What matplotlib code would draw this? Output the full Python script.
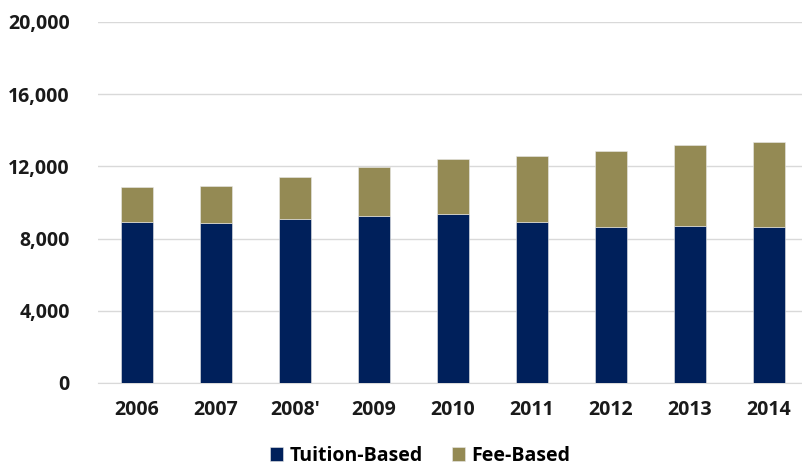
import matplotlib
matplotlib.use("Agg")
import numpy as np
import matplotlib.pyplot as plt
from matplotlib.ticker import FuncFormatter

# data
years = ["2006", "2007", "2008'", "2009", "2010", "2011", "2012", "2013", "2014"]
tuition_based = [8910, 8860, 9100, 9260, 9390, 8910, 8650, 8720, 8650]
total = [10850, 10910, 11440, 11980, 12410, 12590, 12830, 13200, 13370]
fee_based = [t - u for t, u in zip(total, tuition_based)]

navy = "#00205B"
tan = "#948A54"

plt.rcParams['font.family'] = ['Open Sans', 'DejaVu Sans']

fig = plt.figure(figsize=(8.02, 4.68), dpi=100)
ax = fig.add_axes([97.5 / 802, 1 - 383 / 468, 711 / 802, 361 / 468])

x = np.arange(len(years))
w = 0.405
ax.bar(x, tuition_based, w, color=navy, label="Tuition-Based", zorder=3,
       edgecolor="#E8E8E8", linewidth=0.4)
ax.bar(x, fee_based, w, bottom=tuition_based, color=tan, label="Fee-Based", zorder=3,
       edgecolor="#E8E8E8", linewidth=0.4)

ax.set_xlim(-0.5, len(years) - 0.5)
ax.set_ylim(0, 20000)
ax.set_yticks(np.arange(0, 20001, 4000))
ax.yaxis.set_major_formatter(FuncFormatter(lambda v, p: f"{int(v):,}"))
ax.set_xticks(x)
ax.set_xticklabels(years)

ax.grid(axis="y", color="#D9D9D9", linewidth=1, zorder=0)
for s in ["top", "right", "left"]:
    ax.spines[s].set_visible(False)
ax.spines["bottom"].set_color("#D9D9D9")
ax.tick_params(axis="both", length=0, labelsize=14)
ax.tick_params(axis="y", pad=20)
ax.tick_params(axis="x", pad=12)
for lab in ax.get_xticklabels() + ax.get_yticklabels():
    lab.set_fontweight("bold")
    lab.set_color("#1A1A1A")

leg = fig.legend(loc="center", bbox_to_anchor=(420 / 802, 1 - 456 / 468), ncol=2,
                 frameon=False, prop={"size": 14, "weight": "bold"},
                 handlelength=0.7, handleheight=0.7, handletextpad=0.3, columnspacing=1.5,
                 borderpad=0.2)

fig.savefig("out.png", dpi=100)
